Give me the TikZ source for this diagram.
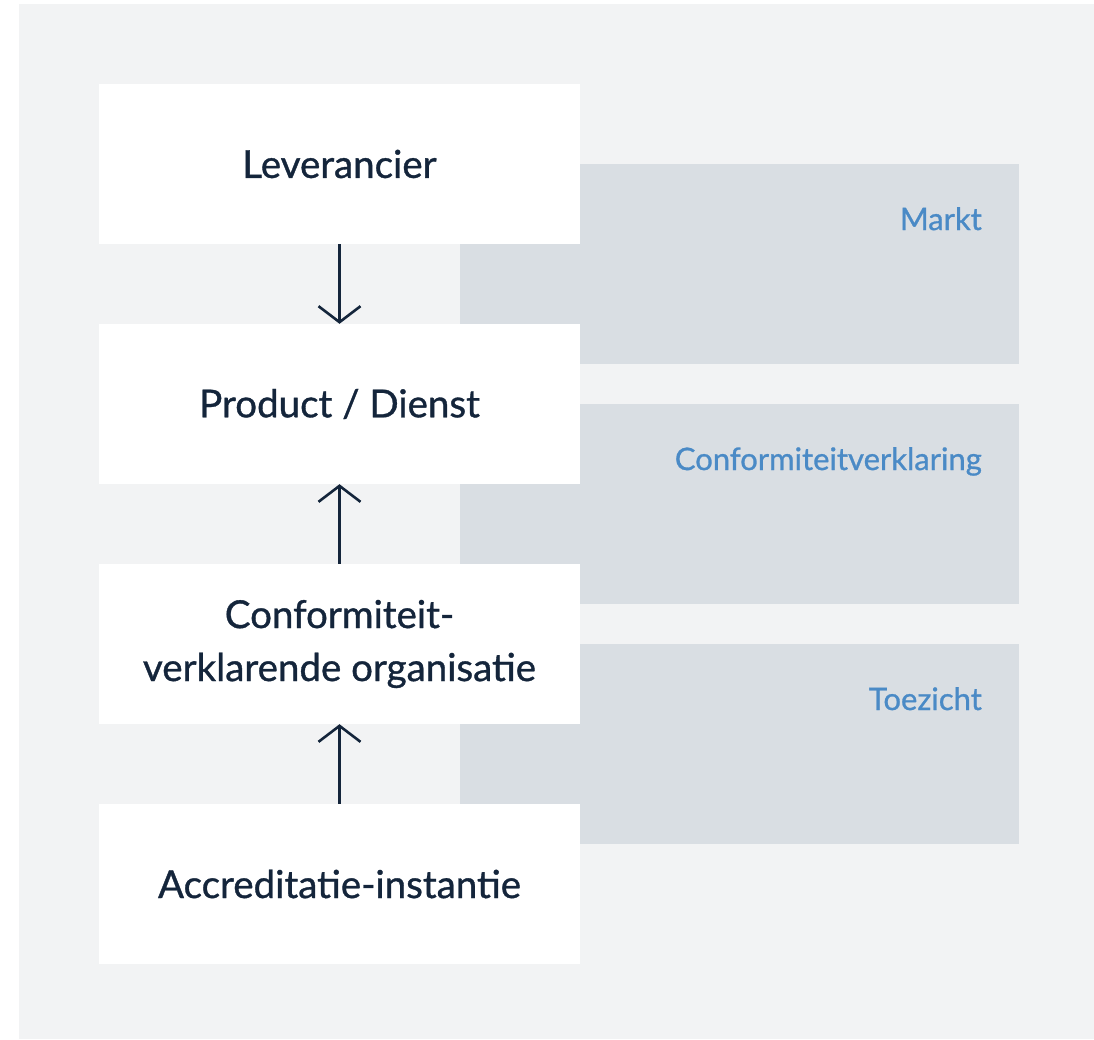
\documentclass[tikz,border=0pt]{standalone}
\usepackage{fontspec}
\setmainfont{Lato}[FakeBold=1.3]
\newfontfamily\medium{Lato}[AutoFakeBold=0.9]
\usetikzlibrary{arrows.meta}
\definecolor{bgray}{HTML}{F2F3F4}
\definecolor{pgray}{HTML}{D9DEE3}
\definecolor{navy}{HTML}{14253B}
\definecolor{lblue}{HTML}{4A8AC6}
\tikzstyle{party} = [rectangle, minimum width=481pt, minimum height=160pt, text centered, align=center, fill=white, text=navy, font=\fontsize{38.5}{53}\selectfont\medium\bfseries, inner sep=0pt]
\tikzstyle{panel} = [rectangle, minimum width=559pt, minimum height=200pt, fill=pgray, inner sep=0pt]
\tikzstyle{tag} = [anchor=base east, text=lblue, font=\fontsize{31}{36}\selectfont\medium\bfseries, inner sep=0pt]
\tikzstyle{arrow} = [line width=2.6pt, draw=navy, -{Straight Barb[length=16pt,width=42pt,line width=2.6pt]}]

\begin{document}
\begin{tikzpicture}[x=1pt,y=-1pt]
    \useasboundingbox (0,0) rectangle (1094,1039);
    \fill [bgray] (19,4) rectangle (1094,1039);

    \node [panel] at (739.5,264) (markt) {};
    \node [panel] at (739.5,504) (verklaring) {};
    \node [panel] at (739.5,744) (toezicht) {};
    \node [tag] at (982,230) (marktlabel) {Markt};
    \node [tag] at (982,470) (verklaringlabel) {Conformiteitverklaring};
    \node [tag] at (982,710) (toezichtlabel) {Toezicht};

    \node [party] at (339.5,164) (leverancier) {Leverancier};
    \node [party] at (339.5,404) (product) {Product / Dienst};
    \node [party] at (339.5,644) (cvo) {Conformiteit-\\verklarende organisatie};
    \node [party] at (339.5,884) (accreditatie) {Accreditatie-instantie};

    \draw [arrow] (leverancier) -- (product);
    \draw [arrow] (cvo) -- (product);
    \draw [arrow] (accreditatie) -- (cvo);
\end{tikzpicture}
\end{document}
